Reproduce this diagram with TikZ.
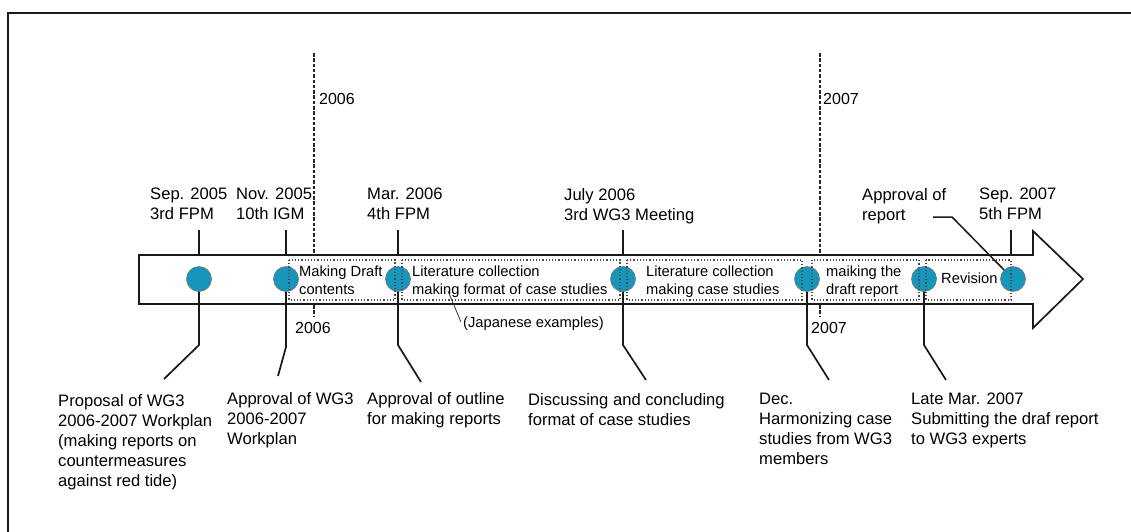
\documentclass[tikz,border=0pt]{standalone}
\usepackage{fontspec}
\setmainfont{Liberation Sans}
\definecolor{dotblue}{RGB}{22,150,186}
\begin{document}
\begin{tikzpicture}[x=1pt,y=-1pt,
 lbl/.style={font=\fontsize{16.6}{20}\selectfont, align=left, inner sep=0pt, anchor=north west, text=black},
 sm/.style={font=\fontsize{14.7}{17.5}\selectfont, align=left, inner sep=0pt, anchor=north west, text=black},
 dotc/.style={circle, fill=dotblue, draw=black!55, line width=0.6pt, minimum size=25pt, inner sep=0pt},
 ln/.style={line width=1.7pt, draw=black!90},
 yr/.style={line width=1.6pt, draw=black!85, dash pattern=on 3.5pt off 1.8pt},
 dbox/.style={draw=black!70, line width=1.1pt, dash pattern=on 1.2pt off 2pt}
]
\useasboundingbox (0,0) rectangle (1131,531);
\clip (0,0) rectangle (1131,531);
% frame
\draw[line width=2pt, draw=black!90] (8,545) -- (8,13) -- (1145,13);
% band arrow
\coordinate (b1) at (139,255);
\coordinate (b2) at (1033,255);
\coordinate (b3) at (1033,231);
\coordinate (b4) at (1083,279);
\coordinate (b5) at (1033,328);
\coordinate (b6) at (1033,304);
\coordinate (b7) at (139,304);
\draw[ln, line join=miter] (b1) -- (b2) -- (b3) -- (b4) -- (b5) -- (b6) -- (b7) -- cycle;
% circles (positions)
\coordinate (p1) at (199,279);
\coordinate (p2) at (286,279);
\coordinate (p3) at (398,279);
\coordinate (p4) at (623,279);
\coordinate (p5) at (807,279);
\coordinate (p6) at (924,279);
\coordinate (p7) at (1013,279);
% year lines
\coordinate (y6a) at (314,53);
\coordinate (y6b) at (314,255);
\coordinate (y6c) at (314,305);
\coordinate (y6d) at (314,316);
\coordinate (y7a) at (820,53);
\coordinate (y7b) at (820,255);
\coordinate (y7c) at (820,305);
\coordinate (y7d) at (820,316);
\draw[yr] (y6a) -- (y6b);
\draw[yr] (y6c) -- (y6d);
\draw[yr] (y7a) -- (y7b);
\draw[yr] (y7c) -- (y7d);
\node[sm, font=\fontsize{16}{19}\selectfont] (y6up) at (319,93) {2006};
\node[sm, font=\fontsize{16}{19}\selectfont] (y7up) at (823,93) {2007};
\node[sm, font=\fontsize{16}{19}\selectfont] (y6dn) at (295,322) {2006};
\node[sm, font=\fontsize{16}{19}\selectfont] (y7dn) at (811,322) {2007};
% upper ticks
\coordinate (t1) at (199,230);
\coordinate (t2) at (286,230);
\coordinate (t3) at (398,230);
\coordinate (t4) at (623,230);
\coordinate (t7) at (1011,230);
\coordinate (t1b) at (199,255);
\coordinate (t2b) at (286,255);
\coordinate (t3b) at (398,255);
\coordinate (t4b) at (623,255);
\coordinate (t7b) at (1011,255);
\draw[ln] (t1) -- (t1b);
\draw[ln] (t2) -- (t2b);
\draw[ln] (t3) -- (t3b);
\draw[ln] (t4) -- (t4b);
\draw[ln] (t7) -- (t7b);
% lower connectors
\coordinate (k1) at (199,345); \coordinate (e1) at (164,379);
\coordinate (k2) at (286,347); \coordinate (e2) at (278,376);
\coordinate (k3) at (398,345); \coordinate (e3) at (421,382);
\coordinate (k4) at (623,345); \coordinate (e4) at (646,380);
\coordinate (k5) at (807,345); \coordinate (e5) at (829,380);
\coordinate (k6) at (924,345); \coordinate (e6) at (946,380);
\draw[ln] (p1) -- (k1) -- (e1);
\draw[ln] (p2) -- (k2) -- (e2);
\draw[ln] (p3) -- (k3) -- (e3);
\draw[ln] (p4) -- (k4) -- (e4);
\draw[ln] (p5) -- (k5) -- (e5);
\draw[ln] (p6) -- (k6) -- (e6);
% approval of report connector
\coordinate (ap1) at (933,217);
\coordinate (ap2) at (952,217);
\draw[ln, line width=1.5pt] (ap1) -- (ap2) -- (p7);
% circles
\node[dotc] (c1) at (p1) {};
\node[dotc] (c2) at (p2) {};
\node[dotc] (c3) at (p3) {};
\node[dotc] (c4) at (p4) {};
\node[dotc] (c5) at (p5) {};
\node[dotc] (c6) at (p6) {};
\node[dotc] (c7) at (p7) {};
% dotted boxes
\draw[dbox] (289,260) rectangle (395,300);
\draw[dbox] (402,260) rectangle (620,300);
\draw[dbox] (627,260) rectangle (802,300);
\draw[dbox] (812,260) rectangle (919,300);
\draw[dbox] (926,260) rectangle (1011,300);
% box texts
\node[sm] (bx1) at (299,266) {Making Draft\\contents};
\node[sm] (bx2) at (412,266) {Literature collection\\making format of case studies};
\node[sm] (bx3) at (646,266) {Literature collection\\making case studies};
\node[sm] (bx4) at (826,266) {maiking the\\draft report};
\node[sm] (bx5) at (941,273) {Revision};
% Japanese examples
\node[sm] (jp) at (463,317) {(Japanese examples)};
\coordinate (jp1) at (461,322);
\coordinate (jp2) at (448,291);
\draw[line width=0.8pt, draw=black!80] (jp1) -- (jp2);
% upper labels
\node[lbl] (u1) at (150,188) {Sep. 2005\\3rd FPM};
\node[lbl] (u2) at (236,188) {Nov. 2005\\10th IGM};
\node[lbl] (u3) at (367,188) {Mar. 2006\\4th FPM};
\node[lbl] (u4) at (564,188) {July 2006\\3rd WG3 Meeting};
\node[lbl] (u6) at (862,188) {Approval of\\report};
\node[lbl] (u7) at (979,188) {Sep. 2007\\5th FPM};
% lower labels
\node[lbl] (l1) at (58,394) {Proposal of WG3\\2006-2007 Workplan\\(making reports on\\countermeasures\\against red tide)};
\node[lbl] (l2) at (227,392) {Approval of WG3\\2006-2007\\Workplan};
\node[lbl] (l3) at (367,392) {Approval of outline\\for making reports};
\node[lbl] (l4) at (528,393) {Discussing and concluding\\format of case studies};
\node[lbl] (l5) at (759,393) {Dec.\\Harmonizing case\\studies from WG3\\members};
\node[lbl] (l6) at (911,393) {Late Mar. 2007\\Submitting the draf report\\to WG3 experts};
\end{tikzpicture}
\end{document}
